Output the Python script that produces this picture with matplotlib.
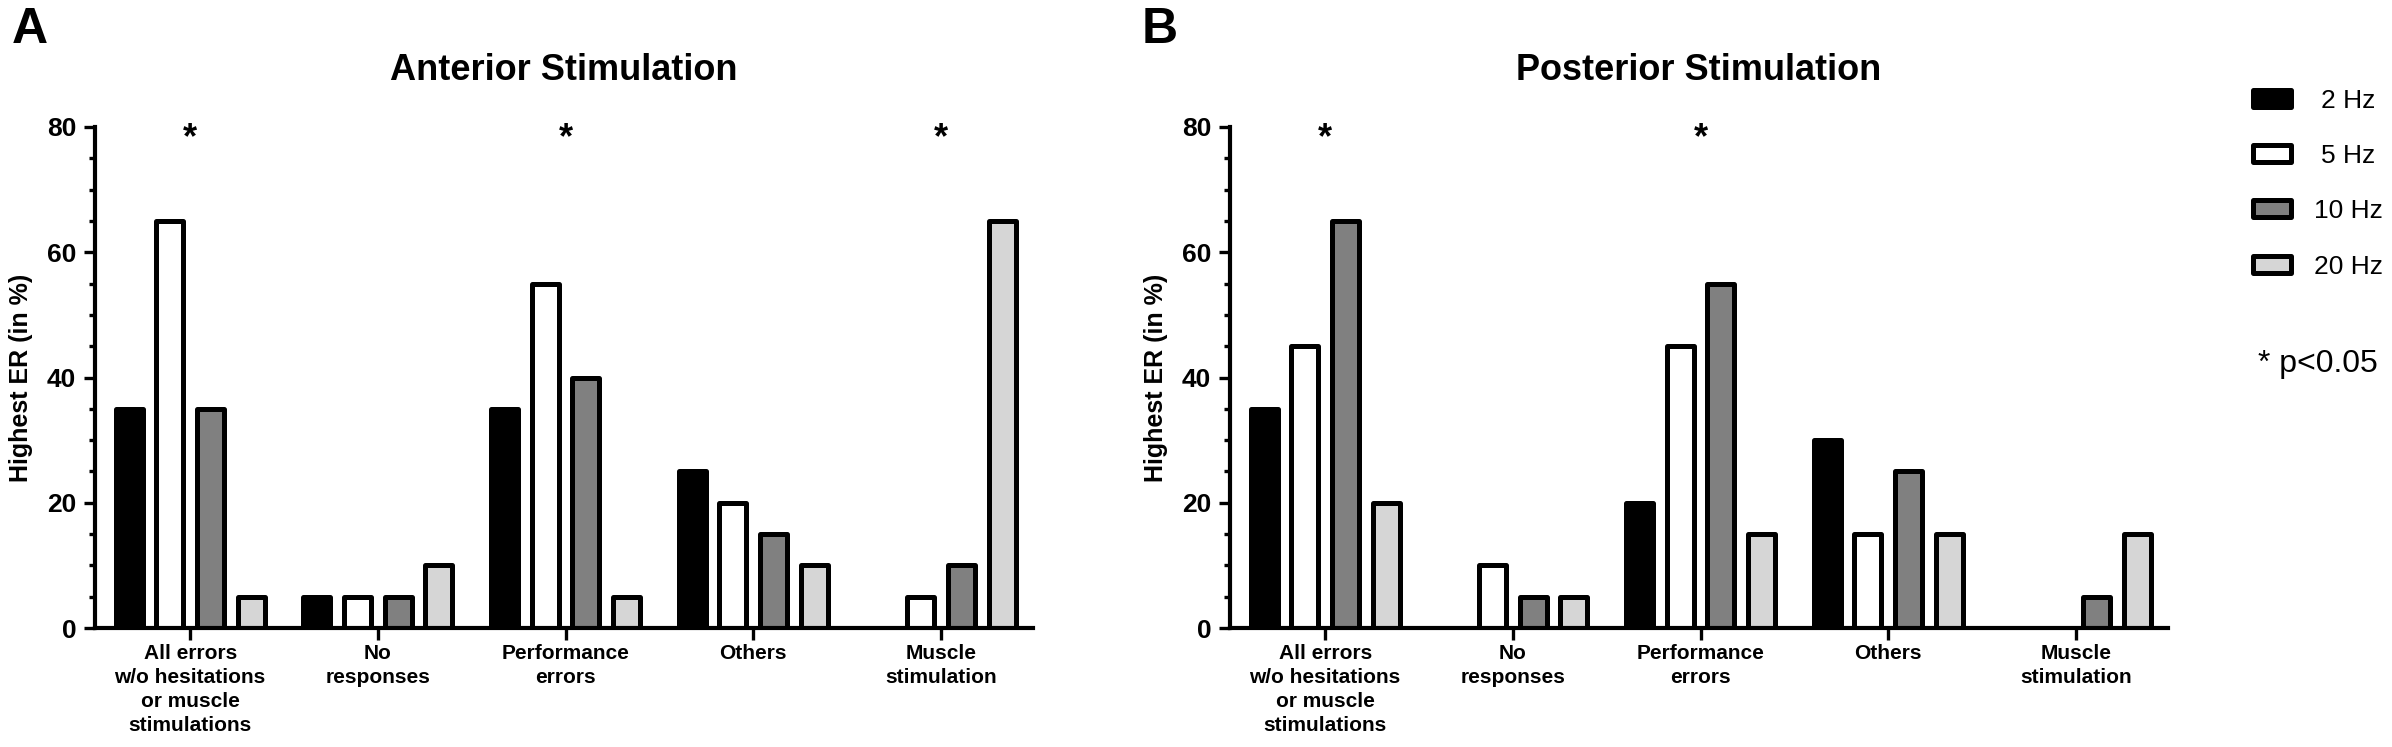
import numpy as np
import matplotlib
matplotlib.use("Agg")
import matplotlib.pyplot as plt

# ---- data ----
categories = ["All errors\nw/o hesitations\nor muscle\nstimulations", "No\nresponses",
              "Performance\nerrors", "Others", "Muscle\nstimulation"]
freqs = ["2 Hz", "5 Hz", "10 Hz", "20 Hz"]

anterior = {
    "2 Hz":  [35, 5, 35, 25, 0],
    "5 Hz":  [65, 5, 55, 20, 5],
    "10 Hz": [35, 5, 40, 15, 10],
    "20 Hz": [5, 10, 5, 10, 65],
}
posterior = {
    "2 Hz":  [35, 0, 20, 30, 0],
    "5 Hz":  [45, 10, 45, 15, 0],
    "10 Hz": [65, 5, 55, 25, 5],
    "20 Hz": [20, 5, 15, 15, 15],
}
anterior_sig = [0, 2, 4]
posterior_sig = [0, 2]

colors = {"2 Hz": "black", "5 Hz": "white", "10 Hz": "#808080", "20 Hz": "#d6d6d6"}

FONT = "Liberation Sans"
W, H = 2392, 747
AX_W = 938
fig = plt.figure(figsize=(W / 100, H / 100), dpi=100)


def draw_panel(left_px, data, sig, title, letter, letter_x):
    ax = fig.add_axes([left_px / W, (H - 628) / H, AX_W / W, 501 / H])
    x = np.arange(len(categories))
    pitch = 0.217
    width = 0.144
    for i, f in enumerate(freqs):
        ax.bar(x + (i - 1.5) * pitch, data[f], width, color=colors[f],
               edgecolor="black", linewidth=3.6, joinstyle="round")
    ax.set_xlim(-0.507, 4.49)
    ax.set_ylim(0, 80)
    ax.set_yticks([0, 20, 40, 60, 80])
    ax.set_yticks(np.arange(0, 81, 5), minor=True)
    ax.set_xticks(x)
    ax.set_xticklabels(categories, family=FONT, fontweight="bold", fontsize=15,
                       linespacing=1.33)
    for lab in ax.get_yticklabels():
        lab.set_family(FONT)
        lab.set_fontweight("bold")
        lab.set_fontsize(19)
    ax.tick_params(axis="y", which="major", length=8, width=2.4, pad=5.5)
    ax.tick_params(axis="y", which="minor", length=4, width=2.4)
    ax.tick_params(axis="x", length=8.6, width=2.4, pad=3)
    for s in ["top", "right"]:
        ax.spines[s].set_visible(False)
    for s in ["left", "bottom"]:
        ax.spines[s].set_linewidth(3)
    ax.set_ylabel("Highest ER (in %)", family=FONT, fontweight="bold", fontsize=18)
    ax.yaxis.set_label_coords(-62 / AX_W, 0.5)
    for k in sig:
        ax.text(k, 78.2, "*", ha="center", va="center", fontsize=26, family=FONT,
                fontweight="bold")
    fig.text((left_px + AX_W / 2) / W, 1 - 80 / H, title, ha="center", va="baseline",
             family=FONT, fontweight="bold", fontsize=26)
    fig.text(letter_x / W, 1 - 43 / H, letter, ha="left", va="baseline",
             family=FONT, fontweight="bold", fontsize=36)
    return ax


draw_panel(95, anterior, anterior_sig, "Anterior Stimulation", "A", 12)
draw_panel(1230, posterior, posterior_sig, "Posterior Stimulation", "B", 1142)

# legend drawn by hand
leg_y = [98, 153, 208, 264]
for f, yc in zip(freqs, leg_y):
    fig.patches.append(plt.Rectangle((2252.5 / W, 1 - (yc + 8.5) / H), 38 / W, 17 / H,
                                     transform=fig.transFigure, facecolor=colors[f],
                                     edgecolor="black", linewidth=3.6, joinstyle="round"))
    fig.text(2348 / W, 1 - (yc + 10) / H, f, ha="center", va="baseline", family=FONT,
             fontsize=19)
fig.text(2258 / W, 1 - 372 / H, "* p<0.05", ha="left", va="baseline", family=FONT,
         fontsize=23)

fig.savefig("out.png", dpi=100)
